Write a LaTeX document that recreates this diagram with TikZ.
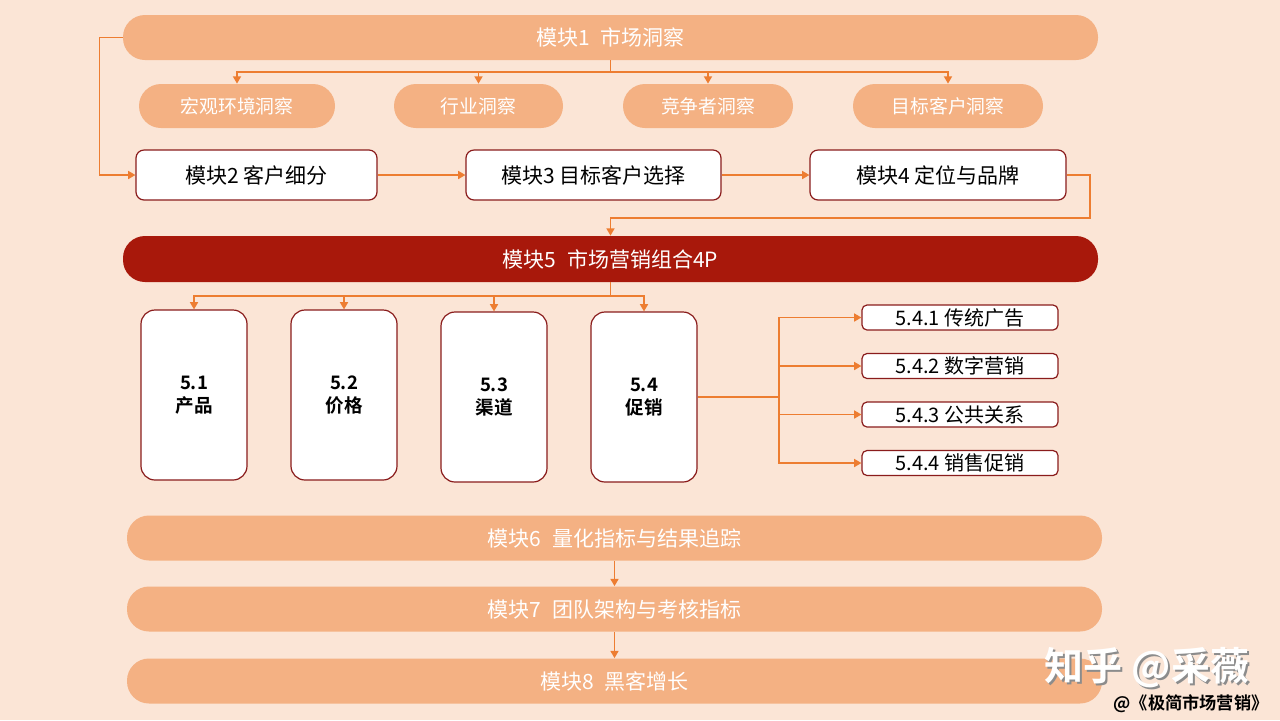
\documentclass[tikz,border=0pt]{standalone}
\usepackage{fontspec}
\setmainfont{Noto Sans CJK SC}[BoldFont={Noto Sans CJK SC Bold}]
\usetikzlibrary{arrows.meta}
\definecolor{bgpeach}{HTML}{FBE5D6}
\definecolor{pillorange}{HTML}{F4B183}
\definecolor{linkorange}{HTML}{ED7D31}
\definecolor{darkred}{HTML}{A8180B}
\definecolor{boxedge}{HTML}{8A1C1C}
\tikzset{
	pill/.style={fill=pillorange, rounded corners=11pt, minimum height=22.5pt, inner sep=0pt, text=white, font=\fontsize{10.5}{12}\selectfont},
	subpill/.style={pill, minimum height=22pt, font=\fontsize{9.4}{11}\selectfont},
	modbox/.style={draw=boxedge, line width=0.6pt, fill=white, rounded corners=4pt, minimum height=25pt, inner sep=0pt, font=\fontsize{10.5}{12}\selectfont},
	pbox/.style={modbox, rounded corners=7pt, minimum width=53pt, minimum height=85pt, align=center, font=\bfseries\fontsize{9.3}{11.5}\selectfont},
	promo/.style={modbox, rounded corners=2.5pt, minimum width=98pt, minimum height=12.5pt, font=\fontsize{10}{12}\selectfont},
	link/.style={draw=linkorange, line width=0.75pt},
	arrow/.style={link, -{Triangle[length=3.6pt,width=4pt]}},
}
\begin{document}
\begin{tikzpicture}[x=0.5pt, y=-0.5pt]
	\fill[bgpeach] (0,0) rectangle (1280,720);
	\useasboundingbox (0,0) rectangle (1280,720);

	\node[pill, minimum width=487.5pt] (mod1) at (610.5,37.5) {模块1\hspace{0.5em}市场洞察};
	\node[subpill, minimum width=98pt] (s1) at (237,106) {宏观环境洞察};
	\node[subpill, minimum width=84.5pt] (s2) at (478.5,106) {行业洞察};
	\node[subpill, minimum width=85pt] (s3) at (708,106) {竞争者洞察};
	\node[subpill, minimum width=95pt] (s4) at (948,106) {目标客户洞察};

	\node[modbox, minimum width=120.5pt] (mod2) at (256.5,175) {模块2 客户细分};
	\node[modbox, minimum width=127.5pt] (mod3) at (593.5,175) {模块3 目标客户选择};
	\node[modbox, minimum width=128pt] (mod4) at (938,175) {模块4 定位与品牌};

	\node[pill, fill=darkred, minimum width=487.5pt, minimum height=23pt] (mod5) at (610.5,259) {模块5\hspace{0.5em}市场营销组合4P};

	\node[pbox] (p1) at (194,395) {5.1\\产品};
	\node[pbox] (p2) at (344,395) {5.2\\价格};
	\node[pbox] (p3) at (494,397) {5.3\\渠道};
	\node[pbox] (p4) at (644,397) {5.4\\促销};

	\node[promo] (q1) at (960,317.5) {5.4.1 传统广告};
	\node[promo] (q2) at (960,366) {5.4.2 数字营销};
	\node[promo] (q3) at (960,414.5) {5.4.3 公共关系};
	\node[promo] (q4) at (960,463) {5.4.4 销售促销};

	\node[pill, minimum width=487.5pt] (mod6) at (614.5,538) {模块6\hspace{0.5em}量化指标与结果追踪};
	\node[pill, minimum width=487.5pt] (mod7) at (614.5,609) {模块7\hspace{0.5em}团队架构与考核指标};
	\node[pill, minimum width=487.5pt] (mod8) at (614.5,681) {模块8\hspace{0.5em}黑客增长};

	\coordinate (b1) at (610.5,72);
	\coordinate (c45) at (1090,218);
	\coordinate (b5) at (610.5,296);
	\coordinate (b54) at (779,397);

	\draw[link] (mod1.south) -- (b1);
	\foreach \n in {s1,s2,s3,s4}
		\draw[arrow] (b1) -| (\n.north);
	\draw[arrow] (mod1.west) -- ++(-23,0) |- (mod2.west);
	\draw[arrow] (mod2) -- (mod3);
	\draw[arrow] (mod3) -- (mod4);
	\draw[arrow] (mod4.east) -| (c45) -| (mod5.north);
	\draw[link] (mod5.south) -- (b5);
	\foreach \n in {p1,p2,p3,p4}
		\draw[arrow] (b5) -| (\n.north);
	\draw[link] (p4.east) -- (b54);
	\foreach \n in {q1,q2,q3,q4}
		\draw[arrow] (b54) |- (\n.west);
	\draw[arrow] (mod6) -- (mod7);
	\draw[arrow] (mod7) -- (mod8);

	\node[text=black!45, font=\bfseries\fontsize{19.5}{22}\selectfont] (wmshadow) at (1149,670) {知乎 @采薇};
	\node[text=white, font=\bfseries\fontsize{19.5}{22}\selectfont] (wm) at (1147,668) {知乎 @采薇};
	\node[font=\bfseries\fontsize{8.6}{10}\selectfont] (book) at (1191,704) {@《极简市场营销》};
\end{tikzpicture}
\end{document}
